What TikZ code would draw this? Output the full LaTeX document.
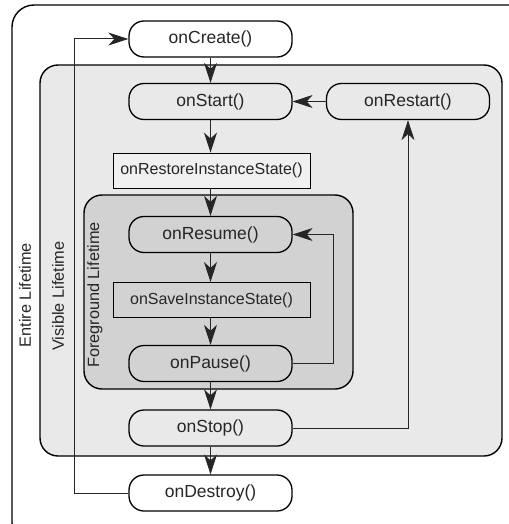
\documentclass[tikz,border=0pt]{standalone}
\usepackage{fontspec}
\setmainfont{Liberation Sans}
\usetikzlibrary{positioning,arrows.meta}
\definecolor{visiblegray}{HTML}{E9E9E9}
\definecolor{foregray}{HTML}{D2D2D2}
\definecolor{boxgray}{HTML}{F0F0F0}
\tikzset{
  flowarrow/.style={-{Stealth[length=20pt, width=13pt, inset=6pt]}, line width=1pt, draw=black!85},
  callnode/.style={draw, rounded corners=15pt, line width=1.3pt, minimum width=163pt, minimum height=36pt, align=center},
  statebox/.style={draw, line width=0.9pt, fill=boxgray, minimum width=197pt, minimum height=35pt, align=center, font=\fontsize{16}{18}\selectfont},
  lifebox/.style={draw, line width=1.4pt},
  lifelabel/.style={rotate=90, font=\fontsize{16.3}{18}\selectfont}
}

\begin{document}
\begin{tikzpicture}[x=1pt, y=-1pt, every node/.style={font=\fontsize{17.5}{20}\selectfont, text=black!85}]
  \useasboundingbox (0,0) rectangle (508,524);
  % lifetime regions
  \draw[lifebox, rounded corners=22pt] (12,5) rectangle (540,545);
  \draw[lifebox, rounded corners=18pt, fill=visiblegray] (40,65) rectangle (502,456);
  \draw[lifebox, rounded corners=18pt, fill=foregray] (84,195) rectangle (353,389);
  \node[lifelabel] (entire) at (25,295) {Entire Lifetime};
  \node[lifelabel] (visible) at (58,296) {Visible Lifetime};
  \node[lifelabel] (foreground) at (95,295) {Foreground Lifetime};
  % callbacks
  \node[callnode] (create) at (210.5,39) {onCreate()};
  \node[callnode] (start) at (210.5,101.5) {onStart()};
  \node[callnode] (restart) at (408,101.5) {onRestart()};
  \node[statebox] (restore) at (211.5,170.5) {onRestoreInstanceState()};
  \node[callnode] (resume) at (210.5,234.5) {onResume()};
  \node[statebox, fill=foregray] (save) at (211.5,300) {onSaveInstanceState()};
  \node[callnode] (pause) at (210.5,363.5) {onPause()};
  \node[callnode] (stop) at (210.5,428) {onStop()};
  \node[callnode] (destroy) at (210.5,493) {onDestroy()};
  % transitions
  \draw[flowarrow] (create) -- (start);
  \draw[flowarrow] (start) -- (start |- restore.north);
  \draw[flowarrow] (start |- restore.south) -- (resume);
  \draw[flowarrow] (resume) -- (resume |- save.north);
  \draw[flowarrow] (resume |- save.south) -- (pause);
  \draw[flowarrow] (pause) -- (stop);
  \draw[flowarrow] (stop) -- (destroy);
  \draw[flowarrow] (restart) -- (start);
  \draw[flowarrow] (pause.east) -- ++(41,0) |- (resume.east);
  \draw[flowarrow] (stop.east) -| (restart.south);
  \draw[flowarrow] (destroy.west) -- ++(-54,0) |- (create.west);
\end{tikzpicture}
\end{document}
